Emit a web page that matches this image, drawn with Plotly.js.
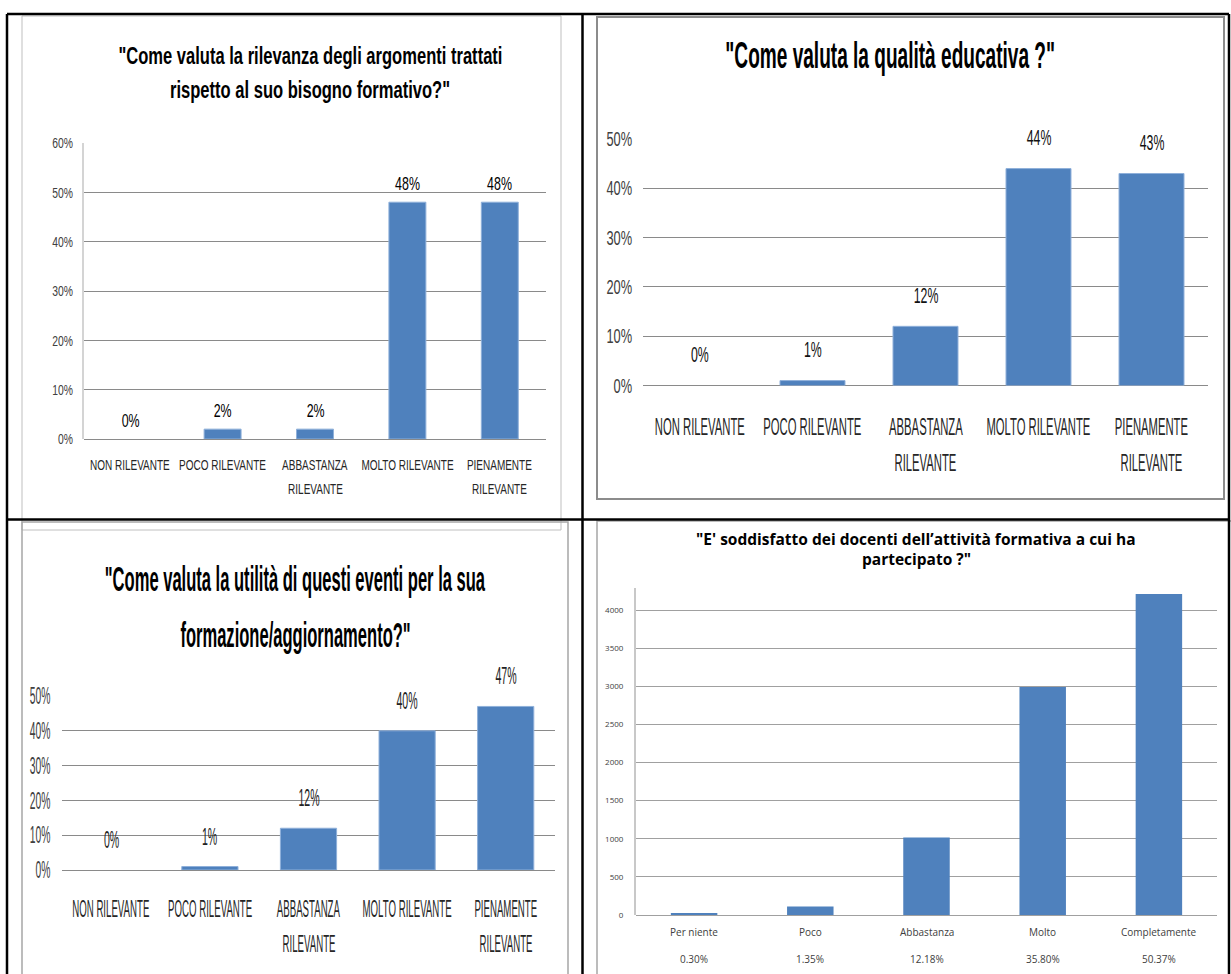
<!DOCTYPE html>
<html>
<head>
<meta charset="utf-8">
<script src="https://cdn.plot.ly/plotly-3.0.1.min.js"></script>
<style>
  html, body { margin: 0; padding: 0; background: #ffffff; }
  #chart { width: 1231px; height: 974px; }
</style>
</head>
<body>
<div id="chart"></div>
<script>
// ---- Survey results: four questions laid out in a 2x2 table ----

// Rating scale used by the first three questions (one entry per label line)
const ratingLines = [
  ['NON RILEVANTE'],
  ['POCO RILEVANTE'],
  ['ABBASTANZA', 'RILEVANTE'],
  ['MOLTO RILEVANTE'],
  ['PIENAMENTE', 'RILEVANTE']
];
const ratingCats = ratingLines.map(l => l.join(' '));

// Q1: relevance of the topics (share of answers, %)
const relevanceTitle = ['"Come valuta la rilevanza degli argomenti trattati', 'rispetto al suo bisogno formativo?"'];
const relevanceShare = [0, 2, 2, 48, 48];

// Q2: educational quality (%)
const qualityTitle = ['"Come valuta la qualità educativa ?"'];
const qualityShare = [0, 1, 12, 44, 43];

// Q3: usefulness of the events (%)
const usefulnessTitle = ['"Come valuta la utilità di questi eventi per la sua', 'formazione/aggiornamento?"'];
const usefulnessShare = [0, 1, 12, 40, 47];

// Q4: satisfaction with the teachers (number of answers, with share)
const satisfactionTitle = ['"E\' soddisfatto dei docenti dell\u2019attività formativa a cui ha', 'partecipato ?"'];
const satisfactionCats = ['Per niente', 'Poco', 'Abbastanza', 'Molto', 'Completamente'];
const satisfactionCount = [25, 113, 1018, 2992, 4210];
const satisfactionPct = ['0.30%', '1.35%', '12.18%', '35.80%', '50.37%'];

// ---- Helpers ----
const W = 1231, H = 974;
const px = x => x / W;
const py = y => 1 - y / H;

// The first three charts use tall, horizontally compressed lettering;
// each text gets a horizontal squeeze factor applied after rendering.
const NARROW = "Liberation Sans, Arial, sans-serif";
const SANS = "Open Sans, Lato, sans-serif";
const BAR = '#4f81bd';

function barTrace(n, cats, vals, edge, width) {
  return {
    type: 'bar', x: cats, y: vals, width: width,
    xaxis: 'x' + (n === 1 ? '' : n), yaxis: 'y' + (n === 1 ? '' : n),
    marker: {
      color: BAR,
      // light outline only on bars that have height
      line: { color: edge || BAR, width: vals.map(v => (edge && v > 0) ? 1 : 0) }
    },
    hoverinfo: 'skip', showlegend: false
  };
}

function yAxis(n, yBottom, yTop, range, dtick, opts) {
  return Object.assign({
    domain: [py(yBottom), py(yTop)], anchor: 'x' + (n === 1 ? '' : n),
    range: range, autorange: false, dtick: dtick, tick0: 0, fixedrange: true,
    showgrid: true, gridcolor: '#8a8a8a', gridwidth: 1,
    zeroline: true, zerolinecolor: '#8a8a8a', zerolinewidth: 1,
    ticks: 'outside', ticklen: 6, tickcolor: 'rgba(0,0,0,0)',
    showline: false
  }, opts);
}

function xAxis(n, xLeft, xRight, cats) {
  return {
    domain: [px(xLeft), px(xRight)], anchor: 'y' + (n === 1 ? '' : n),
    type: 'category', categoryorder: 'array', categoryarray: cats,
    range: [-0.5, cats.length - 0.5], autorange: false,
    showticklabels: false, showgrid: false,
    zeroline: false, showline: false, ticks: '', fixedrange: true
  };
}

const annotations = [];
const annScale = [];
function addAnn(a, s) { annotations.push(a); annScale.push(s); }

function addTitle(lines, cx, ys, font, s) {
  lines.forEach((t, i) => addAnn({
    xref: 'paper', yref: 'paper', x: px(cx), y: py(ys[i]),
    xanchor: 'center', yanchor: 'middle', showarrow: false,
    text: t, font: font
  }, s));
}

function addCategoryLabels(n, cats, lines, offsets, font, s) {
  const sfx = n === 1 ? '' : n;
  cats.forEach((c, i) => lines[i].forEach((t, j) => addAnn({
    xref: 'x' + sfx, yref: 'y' + sfx + ' domain', x: c, y: 0,
    xanchor: 'center', yanchor: 'middle', yshift: -offsets[j],
    showarrow: false, text: t, font: font
  }, s)));
}

function addValueLabels(n, cats, vals, fmt, shift, font, s) {
  const sfx = n === 1 ? '' : n;
  cats.forEach((c, i) => addAnn({
    xref: 'x' + sfx, yref: 'y' + sfx, x: c, y: vals[i],
    xanchor: 'center', yanchor: 'middle', yshift: shift,
    showarrow: false, text: fmt(vals[i]), font: font
  }, s));
}

// ---- Traces ----
const data = [
  barTrace(1, ratingCats, relevanceShare, '#8fb0da', 0.4),
  barTrace(2, ratingCats, qualityShare, '#8fb0da', 0.575),
  barTrace(3, ratingCats, usefulnessShare, '#8fb0da', 0.57),
  barTrace(4, satisfactionCats, satisfactionCount, null, 0.4)
];

// ---- Text ----
const pct = v => v + '%';
const nf = (size, color, bold) => ({ family: NARROW, size: size, color: color, weight: bold ? 'bold' : 'normal' });

// Q1
addTitle(relevanceTitle, 310, [56, 90], nf(24, '#000', true), 0.69);
addValueLabels(1, ratingCats, relevanceShare, pct, 18, nf(17.5, '#000'), 0.71);
addCategoryLabels(1, ratingCats, ratingLines, [26, 50], nf(15.5, '#262626'), 0.645);

// Q2
addTitle(qualityTitle, 890, [56], nf(36, '#000', true), 0.53);
addValueLabels(2, ratingCats, qualityShare, pct, 31, nf(22, '#111'), 0.56);
addCategoryLabels(2, ratingCats, ratingLines, [41, 77], nf(23.5, '#262626'), 0.48);

// Q3
addTitle(usefulnessTitle, 295, [578, 634], nf(36, '#000', true), 0.46);
addValueLabels(3, ratingCats, usefulnessShare, pct, 30, nf(23, '#222'), 0.46);
addCategoryLabels(3, ratingCats, ratingLines, [39, 74], nf(23, '#262626'), 0.42);

// Q4 (regular proportions)
addTitle(satisfactionTitle, 916, [539, 559], { family: SANS, size: 15.5, color: '#000', weight: 'bold' }, 1);
addCategoryLabels(4, satisfactionCats, satisfactionCats.map((c, i) => [c, satisfactionPct[i]]), [17, 44],
  { family: SANS, size: 10, color: '#404040' }, 1);

// Horizontal squeeze for the y tick labels of each axis
const tickScale = { y: 0.69, y2: 0.64, y3: 0.44, y4: 1 };

// ---- Table grid and chart frames ----
const shapes = [];
function line(x0, y0, x1, y1, color, width) {
  shapes.push({ type: 'line', xref: 'paper', yref: 'paper', x0: px(x0), y0: py(y0), x1: px(x1), y1: py(y1),
    line: { color: color, width: width } });
}
function rect(x0, y0, x1, y1, color, width) {
  shapes.push({ type: 'rect', xref: 'paper', yref: 'paper', x0: px(x0), y0: py(y0), x1: px(x1), y1: py(y1),
    line: { color: color, width: width }, fillcolor: 'rgba(0,0,0,0)' });
}
// chart frames
rect(22, 16, 561, 530, '#bfbfbf', 1);
rect(597, 17, 1224, 499, '#8c8c8c', 2);
rect(22, 522, 568, 990, '#a6a6a6', 1.5);
rect(597, 521, 1240, 990, '#a6a6a6', 1.5);
// table lines
line(7, 14, 1229, 14, '#000', 2.5);
line(7, 14, 7, 974, '#000', 2.5);
line(1229, 14, 1229, 974, '#000', 2.5);
line(582.5, 14, 582.5, 974, '#000', 2.5);
line(7, 519.5, 1229, 519.5, '#000', 2.5);

// ---- Layout ----
const layout = {
  width: W, height: H,
  margin: { l: 0, r: 0, t: 0, b: 0, pad: 0 },
  paper_bgcolor: '#ffffff', plot_bgcolor: 'rgba(0,0,0,0)',
  showlegend: false, barmode: 'group',
  xaxis: xAxis(1, 84, 546, ratingCats),
  yaxis: yAxis(1, 439, 143, [0, 60], 10, {
    ticksuffix: '%', tickfont: nf(15, '#404040'),
    showline: true, linecolor: '#d4d4d4', linewidth: 2
  }),
  xaxis2: xAxis(2, 643, 1208, ratingCats),
  yaxis2: yAxis(2, 385.5, 139, [0, 50], 10, { ticksuffix: '%', tickfont: nf(20, '#404040') }),
  xaxis3: xAxis(3, 62, 555, ratingCats),
  yaxis3: yAxis(3, 870, 696, [0, 50], 10, { ticksuffix: '%', tickfont: nf(23.5, '#404040') }),
  xaxis4: xAxis(4, 636, 1217, satisfactionCats),
  yaxis4: yAxis(4, 915, 588, [0, 4290], 500, {
    tickfont: { family: SANS, size: 8, color: '#404040' },
    ticklen: 9, gridcolor: '#a0a0a0', zerolinecolor: '#a0a0a0',
    showline: true, linecolor: '#c8c8c8', linewidth: 2
  }),
  annotations: annotations,
  shapes: shapes
};

// Compress a text element horizontally around its anchor point
function squeeze(el, s, anchor) {
  if (s === 1) return;
  const bb = el.getBBox();
  const cx = anchor === 'end' ? bb.x + bb.width : bb.x + bb.width / 2;
  const base = el.getAttribute('transform') || '';
  el.setAttribute('transform', base + ' translate(' + cx + ',0) scale(' + s + ',1) translate(' + (-cx) + ',0)');
}

const gd = document.getElementById('chart');
Plotly.newPlot(gd, data, layout, { staticPlot: true, displayModeBar: false }).then(() => {
  gd.querySelectorAll('g.annotation').forEach(g => {
    const i = +g.getAttribute('data-index');
    const t = g.querySelector('text.annotation-text');
    if (t) squeeze(t, annScale[i], 'middle');
  });
  Object.keys(tickScale).forEach(id => {
    gd.querySelectorAll('g.' + id + 'tick text').forEach(t => squeeze(t, tickScale[id], 'end'));
  });
});
</script>
</body>
</html>
